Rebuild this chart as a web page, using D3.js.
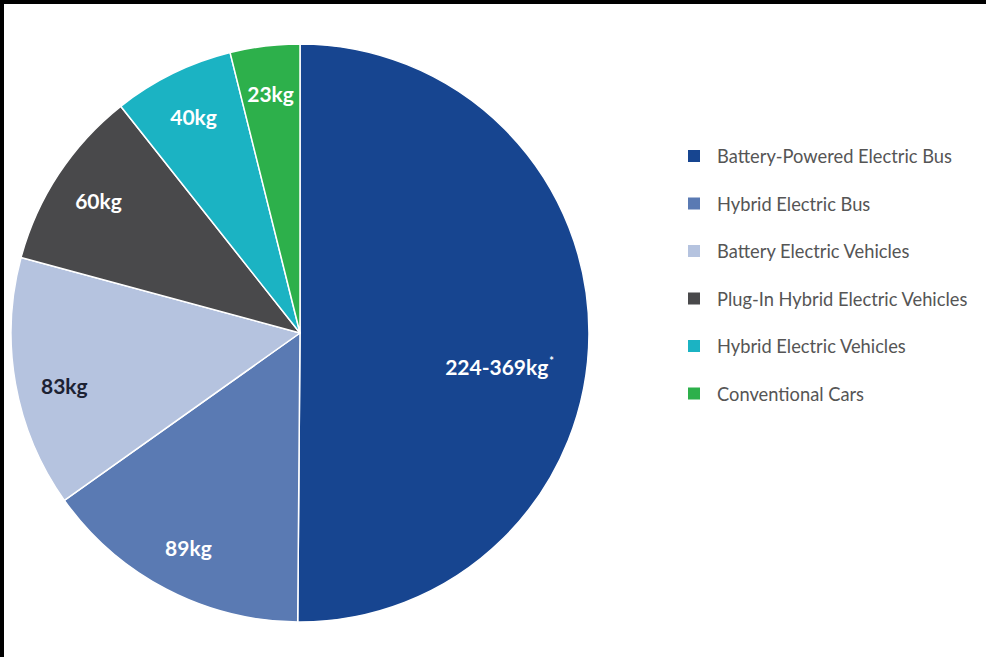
<!DOCTYPE html>
<html>
<head>
<meta charset="utf-8">
<script src="https://cdn.jsdelivr.net/npm/d3@7/dist/d3.min.js"></script>
<style>
  html, body { margin: 0; padding: 0; background: #000; }
  svg { display: block; }
</style>
</head>
<body>
<svg id="chart" width="986" height="657"></svg>
<script>
// Lifetime battery weight by vehicle type
const categories = [
  "Battery-Powered Electric Bus",
  "Hybrid Electric Bus",
  "Battery Electric Vehicles",
  "Plug-In Hybrid Electric Vehicles",
  "Hybrid Electric Vehicles",
  "Conventional Cars"
];
// kg; the electric bus is given as a range, its slice uses the midpoint
const rangeLow  = [224, 89, 83, 60, 40, 23];
const rangeHigh = [369, 89, 83, 60, 40, 23];
const values = rangeLow.map((lo, i) => (lo + rangeHigh[i]) / 2);
const labels = ["224-369kg", "89kg", "83kg", "60kg", "40kg", "23kg"];
const labelNotes = ["*", "", "", "", "", ""];
const colors = ["#174590", "#5a7ab3", "#b5c3df", "#49494b", "#1bb3c3", "#2db04b"];
const labelColors = ["#ffffff", "#ffffff", "#1c2233", "#ffffff", "#ffffff", "#ffffff"];

const W = 986, H = 657;
const svg = d3.select("#chart");

// white sheet, black edge along top and left
svg.append("rect").attr("x", 4).attr("y", 4).attr("width", W - 4).attr("height", H - 4).attr("fill", "#ffffff");

const cx = 300, cy = 333, R = 289;
const g = svg.append("g").attr("transform", `translate(${cx},${cy})`);

const pie = d3.pie().sort(null).value(d => d);
const arcs = pie(values);
const arc = d3.arc().innerRadius(0).outerRadius(R);

g.selectAll("path.slice")
  .data(arcs)
  .join("path")
  .attr("class", "slice")
  .attr("d", arc)
  .attr("fill", (d, i) => colors[i])
  .attr("stroke", "#ffffff")
  .attr("stroke-width", 1.5)
  .attr("stroke-linejoin", "round");

// label placement: small slices along a ring near the rim, the large one further in
function labelPos(d, i) {
  const mid = (d.startAngle + d.endAngle) / 2;
  const a = i === 0 ? mid + 0.16 : (i === 2 ? mid - 0.04 : mid);
  const r = i === 0 ? R * 0.70 : R * 0.835;
  return [Math.sin(a) * r, -Math.cos(a) * r];
}

const lbl = g.selectAll("text.val")
  .data(arcs)
  .join("text")
  .attr("class", "val")
  .attr("transform", (d, i) => `translate(${labelPos(d, i)})`)
  .attr("text-anchor", "middle")
  .attr("dominant-baseline", "central")
  .attr("font-family", "Lato, 'Open Sans', sans-serif")
  .attr("font-weight", 700)
  .attr("font-size", 21)
  .attr("fill", (d, i) => labelColors[i]);

lbl.append("tspan").text((d, i) => labels[i]);
lbl.append("tspan")
  .attr("font-size", 11)
  .attr("dx", 1)
  .attr("dy", -6)
  .text((d, i) => labelNotes[i]);

// legend
const legend = svg.append("g").attr("transform", "translate(688,156)");
const rowH = 47.5;
const item = legend.selectAll("g.item")
  .data(categories)
  .join("g")
  .attr("class", "item")
  .attr("transform", (d, i) => `translate(0,${i * rowH})`);

item.append("rect")
  .attr("x", 0).attr("y", -6)
  .attr("width", 12).attr("height", 12)
  .attr("fill", (d, i) => colors[i]);

item.append("text")
  .attr("x", 29)
  .attr("y", 0)
  .attr("dominant-baseline", "central")
  .attr("font-family", "Lato, 'Open Sans', sans-serif")
  .attr("font-size", 18.3)
  .attr("fill", "#555555")
  .text(d => d);
</script>
</body>
</html>
